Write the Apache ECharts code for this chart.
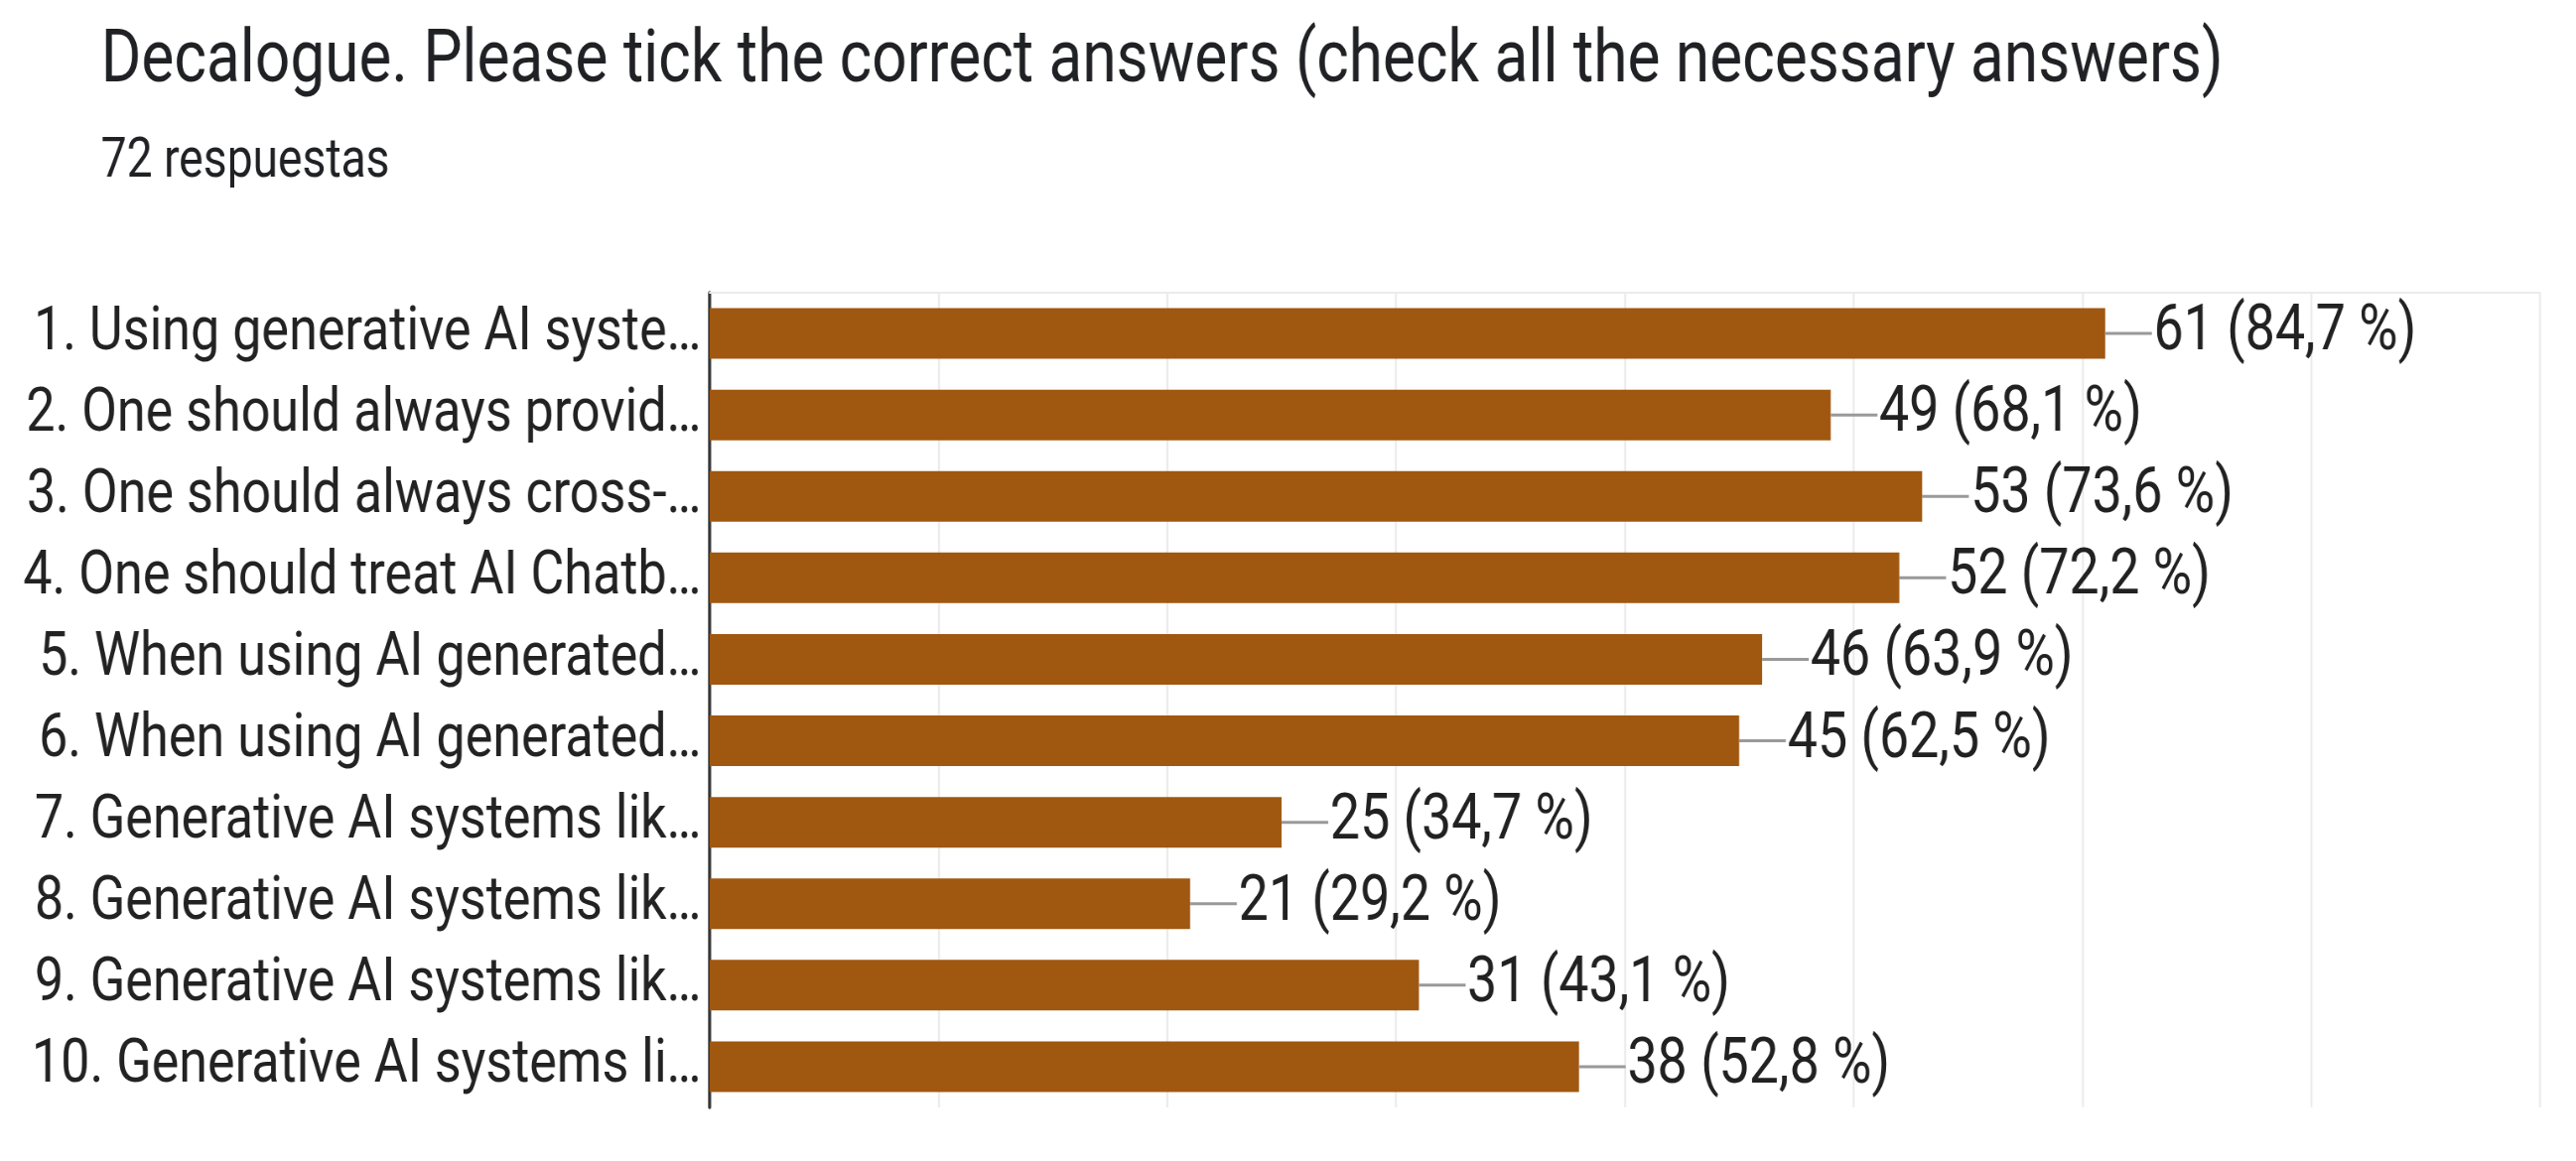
<!DOCTYPE html>
<html>
<head>
<meta charset="utf-8">
<title>Decalogue</title>
<script src="https://cdn.jsdelivr.net/npm/echarts@6/dist/echarts.min.js"></script>
<style>
  html, body { margin: 0; padding: 0; background: #fff; overflow: hidden; }
  /* the source screenshot is squeezed sideways, so the chart is drawn wider and narrowed back */
  #chart {
    width: 3089px;
    height: 1170px;
    transform: scaleX(0.84);
    transform-origin: 0 0;
  }
</style>
</head>
<body>
<div id="chart"></div>
<script>
// data
var categories = [
  "1. Using generative AI syste\u2026",
  "2. One should always provid\u2026",
  "3. One should always cross-\u2026",
  "4. One should treat AI Chatb\u2026",
  "5. When using AI generated\u2026",
  "6. When using AI generated\u2026",
  "7. Generative AI systems lik\u2026",
  "8. Generative AI systems lik\u2026",
  "9. Generative AI systems lik\u2026",
  "10. Generative AI systems li\u2026"
];
var counts = [61, 49, 53, 52, 46, 45, 25, 21, 31, 38];
var percents = ["84,7", "68,1", "73,6", "72,2", "63,9", "62,5", "34,7", "29,2", "43,1", "52,8"];
var titleText = "Decalogue. Please tick the correct answers (check all the necessary answers)";
var subText = "72 respuestas";

var chart = echarts.init(document.getElementById("chart"));

chart.setOption({
  backgroundColor: "#ffffff",
  textStyle: { fontFamily: "Roboto" },
  title: [
    {
      text: titleText,
      left: 116,
      top: 21,
      textStyle: { color: "#202124", fontSize: 74, fontWeight: "normal", fontFamily: "Roboto" }
    },
    {
      text: subText,
      left: 116,
      top: 132,
      textStyle: { color: "#202124", fontSize: 55, fontWeight: "normal", fontFamily: "Roboto" }
    }
  ],
  grid: {
    left: 851,
    right: 43,
    top: 295,
    bottom: 54,
    containLabel: false
  },
  xAxis: [
    {
      type: "value",
      min: 0,
      max: 80,
      interval: 10,
      axisLabel: { show: false },
      axisTick: { show: false },
      axisLine: { show: false },
      splitLine: {
        show: true,
        lineStyle: { color: "#ebebeb", width: 2.4 }
      }
    },
    {
      // only for the thin frame line on top
      type: "value",
      position: "top",
      min: 0,
      max: 80,
      axisLabel: { show: false },
      axisTick: { show: false },
      splitLine: { show: false },
      axisLine: { show: true, lineStyle: { color: "#ebebeb", width: 2 } }
    }
  ],
  yAxis: {
    type: "category",
    inverse: true,
    data: categories,
    axisTick: { show: false },
    axisLine: { show: true, lineStyle: { color: "#333333", width: 3.5 } },
    axisLabel: {
      color: "#222222",
      fontSize: 62,
      fontFamily: "Roboto",
      margin: 10
    }
  },
  series: [
    {
      type: "bar",
      data: counts,
      barWidth: 51,
      itemStyle: { color: "#a0570f" },
      label: {
        show: true,
        position: "right",
        distance: 0,
        formatter: function (p) {
          return "{l|}{v|" + counts[p.dataIndex] + " (" + percents[p.dataIndex] + " %)}";
        },
        rich: {
          l: { width: 56, height: 3, backgroundColor: "#999999" },
          v: { color: "#212121", fontSize: 64, fontFamily: "Roboto", padding: [0, 0, 0, 2] }
        }
      }
    }
  ]
});
</script>
</body>
</html>
